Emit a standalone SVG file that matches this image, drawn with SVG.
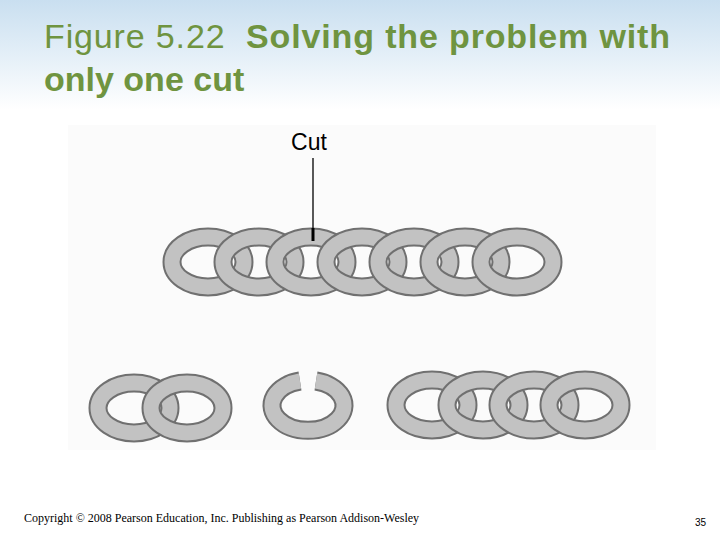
<svg xmlns="http://www.w3.org/2000/svg" width="720" height="540" viewBox="0 0 720 540">
<defs>
<linearGradient id="bg" x1="0" y1="0" x2="0" y2="1">
<stop offset="0" stop-color="#c9dff0"/><stop offset="1" stop-color="#ffffff"/>
</linearGradient>
<style>
.t{font-family:"Liberation Sans",Arial,sans-serif;fill:#6f9440;font-size:34px}
.o{fill:none;stroke:#707070;stroke-width:19}
.i{fill:none;stroke:#c2c2c2;stroke-width:15}
</style>
<g id="ring">
<ellipse class="o" rx="36" ry="25"/><ellipse class="i" rx="36" ry="25"/>
</g>
</defs>
<rect width="720" height="540" fill="#fff"/>
<rect width="720" height="110" fill="url(#bg)"/>
<rect x="68" y="125" width="588" height="325" fill="#fbfbfb"/>
<text class="t" x="44" y="48" xml:space="preserve" textLength="626" lengthAdjust="spacing">Figure 5.22  <tspan font-weight="bold">Solving the problem with</tspan></text>
<text class="t" x="44" y="91" font-weight="bold">only one cut</text>
<g id="top-chain">
<use href="#ring" x="208" y="262"/><use href="#ring" x="259" y="262"/><use href="#ring" x="311" y="262"/><use href="#ring" x="362" y="262"/><use href="#ring" x="414" y="262"/><use href="#ring" x="465" y="262"/><use href="#ring" x="517" y="262"/>
</g>
<g id="connectors">
<line x1="313" y1="158" x2="313" y2="240" stroke="#000" stroke-width="1.3"/>
<line x1="313" y1="228" x2="313" y2="241" stroke="#000" stroke-width="3"/>
</g>
<text id="cut-label" x="309" y="150" text-anchor="middle" font-family="Liberation Sans,Arial,sans-serif" font-size="23">Cut</text>
<g id="two-chain"><use href="#ring" x="134" y="408"/><use href="#ring" x="187" y="408"/></g>
<g id="cut-ring">
<path d="M300,381 A36,25 0 1,0 316,381" class="o"/>
<path d="M300,381 A36,25 0 1,0 316,381" class="i"/>
</g>
<g id="four-chain"><use href="#ring" x="432" y="405"/><use href="#ring" x="483" y="405"/><use href="#ring" x="534" y="405"/><use href="#ring" x="585" y="405"/></g>
<text x="24" y="522" font-family="Liberation Serif,serif" font-size="12">Copyright © 2008 Pearson Education, Inc. Publishing as Pearson Addison-Wesley</text>
<text x="695" y="526" font-family="Liberation Sans,Arial,sans-serif" font-size="10">35</text>
</svg>
